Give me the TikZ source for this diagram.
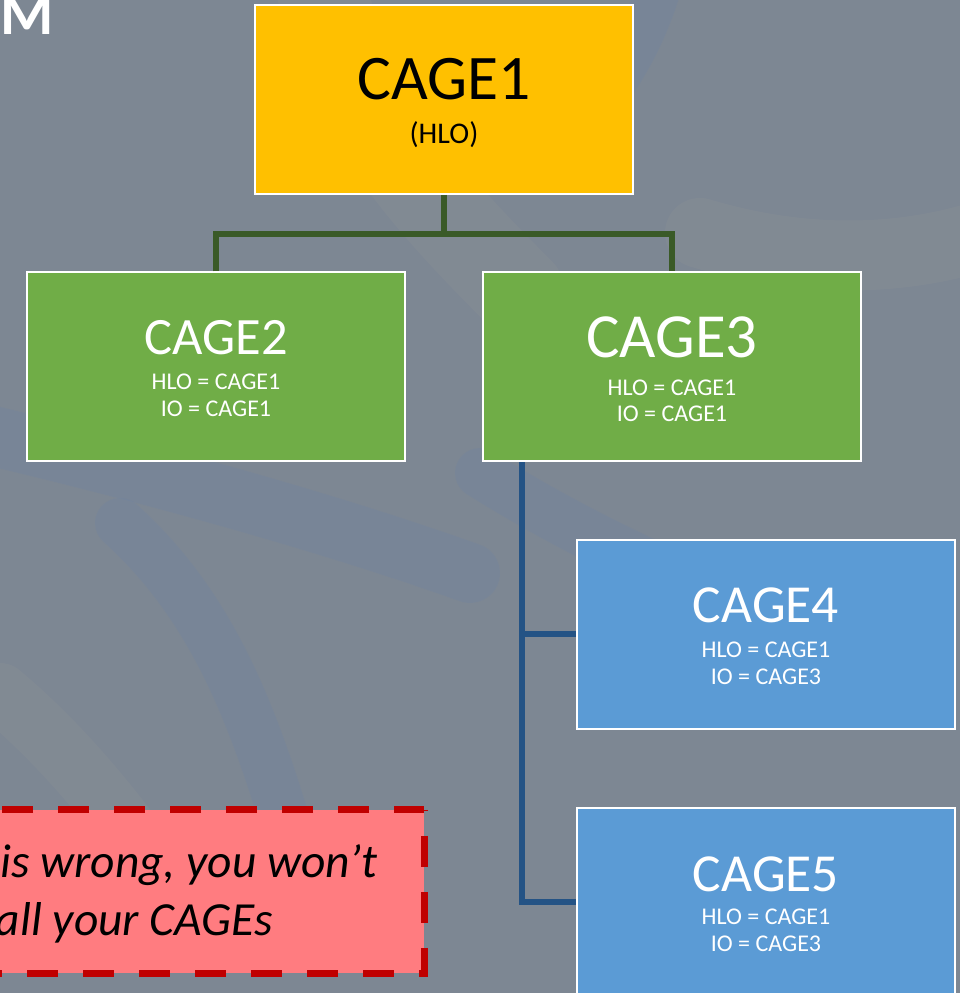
\documentclass[tikz,border=0pt]{standalone}
\usepackage{fontspec}
\setmainfont{Carlito}
\definecolor{bgcol}{HTML}{7D8793}
\definecolor{bandlight}{HTML}{8F9396}
\definecolor{bandblue}{HTML}{6E83A3}
\definecolor{cyellow}{HTML}{FFC000}
\definecolor{cgreen}{HTML}{70AD47}
\definecolor{cblue}{HTML}{5B9BD5}
\definecolor{linegreen}{HTML}{3A5A27}
\definecolor{lineblue}{HTML}{245385}
\definecolor{warnfill}{HTML}{FF7C80}
\definecolor{warnline}{HTML}{C00000}
\tikzset{
  box/.style={draw=white, line width=2pt, minimum width=378pt, minimum height=189pt, inner sep=0pt},
  gline/.style={draw=linegreen, line width=6pt},
  bline/.style={draw=lineblue, line width=6pt},
  txt/.style={anchor=base, inner sep=0pt, text=white},
  bigtxt/.style={txt, font=\fontsize{#1}{#1}\selectfont},
  subtxt/.style={txt, font=\fontsize{24}{24}\selectfont},
  warntxt/.style={anchor=base east, inner sep=0pt, font=\itshape\fontsize{47.5}{47.5}\selectfont},
  band/.style={line cap=round, opacity=0.27},
}
\begin{document}
\begin{tikzpicture}[x=1pt,y=1pt]
\useasboundingbox (0,0) rectangle (960,993);
\clip (0,0) rectangle (960,993);
% background
\fill[bgcol] (0,0) rectangle (960,993);
\draw[band, bandlight, line width=90pt] (320,1010) .. controls (350,880) and (420,800) .. (520,700);
\draw[band, bandblue, line width=60pt] (-20,560) .. controls (150,520) and (330,470) .. (470,420);
\draw[band, bandblue, line width=50pt] (120,470) .. controls (220,380) and (260,260) .. (300,120);
\draw[band, bandblue, line width=45pt] (660,1010) .. controls (640,940) and (600,880) .. (540,830);
\draw[band, bandlight, line width=70pt] (700,760) .. controls (800,730) and (900,730) .. (990,760);
\draw[band, bandblue, line width=50pt] (480,520) .. controls (560,470) and (640,430) .. (760,380);
\draw[band, bandlight, line width=60pt] (0,300) .. controls (60,250) and (120,180) .. (180,90);
% boxes
\node[box, fill=cyellow] (c1) at (444,893.5) {};
\node[box, fill=cgreen] (c2) at (216,626) {};
\node[box, fill=cgreen] (c3) at (672,626) {};
\node[box, fill=cblue] (c4) at (766,358.5) {};
\node[box, fill=cblue] (c5) at (766,90.5) {};
% connectors
\coordinate (gbus) at (444,759);
\coordinate (trunk) at (521.5,0);
\draw[gline] (c1.south) -- (gbus);
\draw[gline] (c2.north) |- (gbus) -| (c3.north);
\draw[bline] (c3.south -| trunk) -- (trunk |- c5.west) -- (c5.west);
\draw[bline] (trunk |- c4.west) -- (c4.west);
% texts
\node[bigtxt=63.5, text=black] (t1a) at (444,893) {CAGE1};
\node[txt, text=black, font=\fontsize{30}{30}\selectfont] (t1b) at (444,849) {(HLO)};
\node[bigtxt=52.5] (t2a) at (216,638) {CAGE2};
\node[subtxt] (t2b) at (216,603) {HLO = CAGE1};
\node[subtxt] (t2c) at (216,576) {IO = CAGE1};
\node[bigtxt=62.8] (t3a) at (672,635) {CAGE3};
\node[subtxt] (t3b) at (672,597) {HLO = CAGE1};
\node[subtxt] (t3c) at (672,571) {IO = CAGE1};
\node[bigtxt=53.5] (t4a) at (766,370) {CAGE4};
\node[subtxt] (t4b) at (766,335) {HLO = CAGE1};
\node[subtxt] (t4c) at (766,308) {IO = CAGE3};
\node[bigtxt=53.5] (t5a) at (766,101) {CAGE5};
\node[subtxt] (t5b) at (766,68) {HLO = CAGE1};
\node[subtxt] (t5c) at (766,41) {IO = CAGE3};
% warning box
\node[fill=warnfill, minimum width=444pt, minimum height=163pt, inner sep=0pt] (warn) at (202,101.5) {};
\draw[warnline, line width=7pt, dash pattern=on 31pt off 25pt, dash phase=1pt] (warn.north east) -- (warn.north west);
\draw[warnline, line width=7pt, dash pattern=on 31pt off 25pt, dash phase=30pt] (warn.north east) -- (warn.south east) -- (warn.south west);
\node[warntxt] (w1) at (378,115) {is wrong, you won’t};
\node[warntxt] (w2) at (273,57) {all your CAGEs};
% title fragment
\node[anchor=base west, inner sep=0pt, text=white, font=\bfseries\fontsize{61}{61}\selectfont] (title) at (0,958) {M};
\end{tikzpicture}
\end{document}
